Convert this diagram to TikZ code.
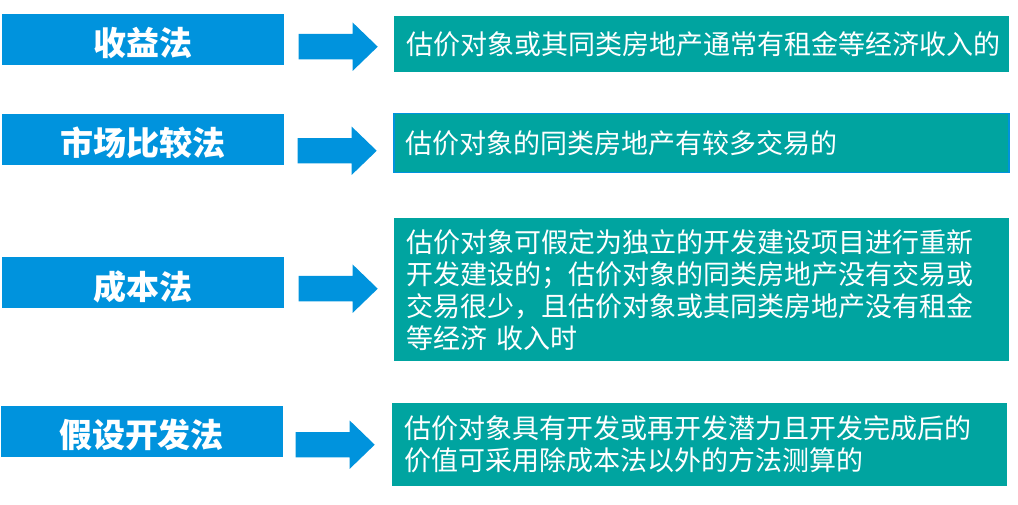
\documentclass[tikz,border=0pt]{standalone}
\usepackage{fontspec}
\newfontfamily\cjk{Noto Sans CJK SC}
\usepackage{xcolor}
\definecolor{MethodBlue}{RGB}{0,147,221}
\definecolor{CaseTeal}{RGB}{0,164,160}
\usetikzlibrary{shapes.arrows, positioning}

\tikzset{
  method/.style={fill=MethodBlue, text=white, minimum width=282pt, minimum height=51pt,
    inner sep=0pt, text height=32pt, text depth=0pt,
    font=\cjk\bfseries\fontsize{33}{36}\selectfont},
  case/.style={anchor=north west, fill=CaseTeal, text=white, minimum width=615pt,
    inner xsep=12pt, inner ysep=0pt, text width=591pt, align=left,
    font=\cjk\fontsize{27}{32}\selectfont},
  pointer/.style={single arrow, fill=MethodBlue, minimum height=79pt, minimum width=48pt,
    single arrow head extend=11.5pt, single arrow tip angle=88,
    inner xsep=0pt, inner ysep=12.5pt}
}

\begin{document}
\begin{tikzpicture}[x=1pt, y=-1pt]
\useasboundingbox (0,0) rectangle (1018,505);

% methods
\node[method] (m1) at (142.5,40) {收益法};
\node[method] (m2) at (143,139.5) {市场比较法};
\node[method] (m3) at (142.5,283) {成本法};
\node[method] (m4) at (141.5,431.5) {假设开发法};

% cases
\node[case, minimum height=56pt] (c1) at (394,16) {估价对象或其同类房地产通常有租金等经济收入的};
\node[case, minimum height=59pt, draw=MethodBlue, line width=1.5pt] (c2) at (393,113) {估价对象的同类房地产有较多交易的};
\node[case, minimum height=143pt] (c3) at (394,218) {估价对象可假定为独立的开发建设项目进行重新\\
开发建设的；估价对象的同类房地产没有交易或\\
交易很少，且估价对象或其同类房地产没有租金\\
等经济 收入时};
\node[case, minimum height=83pt] (c4) at (392,403) {估价对象具有开发或再开发潜力且开发完成后的\\
价值可采用除成本法以外的方法测算的};

% arrows
\node[pointer, left=16pt of c1, yshift=-2.5pt] (p1) {};
\node[pointer, left=16pt of c2, yshift=-7.5pt] (p2) {};
\node[pointer, left=16pt of c3, yshift=1pt] (p3) {};
\node[pointer, left=17pt of c4] (p4) {};
\end{tikzpicture}
\end{document}
